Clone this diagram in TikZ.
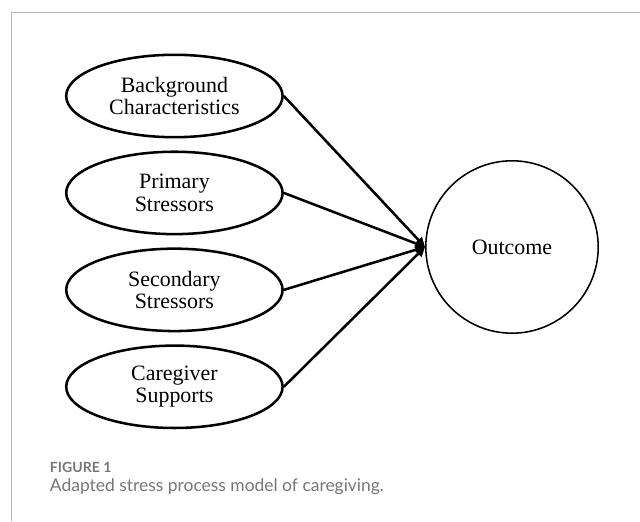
\documentclass[tikz,border=0pt]{standalone}
\usepackage{fontspec}
\setmainfont{Liberation Serif}
\newfontfamily\capfont{Lato}
\usetikzlibrary{shapes.geometric}
\usetikzlibrary{positioning}
\usetikzlibrary{arrows.meta}
\definecolor{capgray}{HTML}{767676}
\definecolor{framegray}{HTML}{B4B4B4}

\tikzset{
	factor/.style={draw, ellipse, line width=1.8pt, minimum width=5.41cm, minimum height=2.06cm, inner sep=0pt, align=center, font=\fontsize{15.6}{15.8}\selectfont},
	outcome/.style={draw, circle, line width=1.1pt, minimum size=4.31cm, font=\fontsize{15.6}{15.8}\selectfont},
	link/.style={-{Triangle[length=0.24cm, width=0.22cm]}, line width=1.8pt},
	figlabel/.style={anchor=base west, text=capgray, font=\capfont\bfseries\fontsize{10}{12}\selectfont},
	captext/.style={anchor=base west, text=capgray, font=\capfont\fontsize{12.4}{14}\selectfont}
}

\begin{document}
\begin{tikzpicture}[node distance=0.3cm]
	\useasboundingbox (0,0) rectangle (16,-13.025);
	\draw[framegray, line width=0.7pt] (16,-0.3) -- (0.29,-0.3) -- (0.29,-13.025);

	\node[factor](bg) at (4.36,-2.4){Background\\Characteristics};
	\node[factor, below= of bg](prim){Primary\\Stressors};
	\node[factor, below= of prim](sec){Secondary\\Stressors};
	\node[factor, below= of sec](supp){Caregiver\\Supports};

	\node[outcome](out) at (12.8,-6.175){Outcome};

	\draw[link] (bg.east) -- (out.west);
	\draw[link] (prim.east) -- (out.west);
	\draw[link] (sec.east) -- (out.west);
	\draw[link] (supp.east) -- (out.west);

	\node[figlabel](fig) at (1.125,-11.8){FIGURE 1};
	\node[captext](cap) at (1.125,-12.275){Adapted stress process model of caregiving.};
\end{tikzpicture}
\end{document}
